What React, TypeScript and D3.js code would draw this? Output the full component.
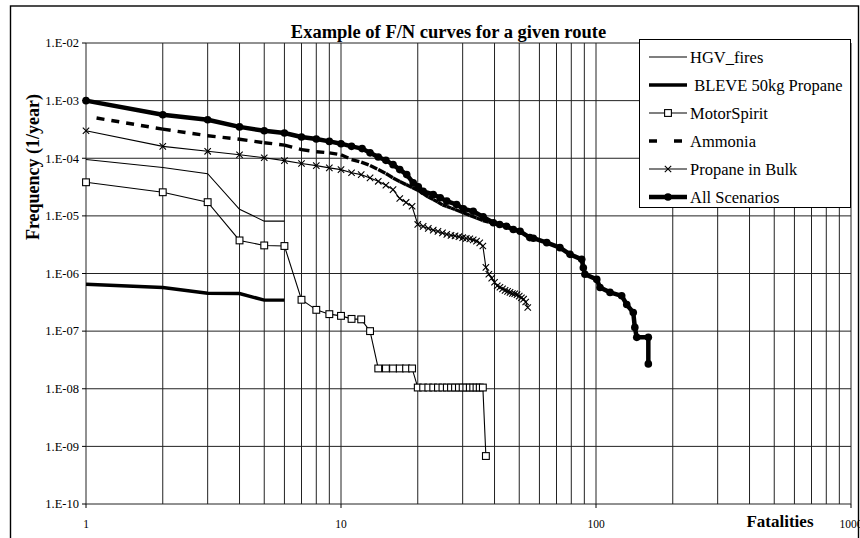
import React from "react";
import * as d3 from "d3";

// ---------- data ----------
const hgvN = [1, 2, 3, 4, 5, 6];
const hgvF = [9.5e-5, 6.9e-5, 5.4e-5, 1.3e-5, 8.1e-6, 8.1e-6];

const bleveN = [1, 2, 3, 4, 5, 6];
const bleveF = [6.5e-7, 5.7e-7, 4.55e-7, 4.5e-7, 3.45e-7, 3.45e-7];

const motorN = [1, 2, 3, 4, 5, 6, 7, 8, 9, 10, 11, 12, 13, 14, 15, 16, 17, 18, 19,
  20, 21, 22, 23, 24, 25, 26, 27, 28, 29, 30, 31, 32, 33, 34, 35, 36, 37];
const motorF = [3.83e-5, 2.57e-5, 1.73e-5, 3.75e-6, 3.07e-6, 3.0e-6, 3.5e-7, 2.34e-7,
  1.97e-7, 1.84e-7, 1.63e-7, 1.6e-7, 1.0e-7,
  2.25e-8, 2.25e-8, 2.25e-8, 2.25e-8, 2.25e-8, 2.25e-8,
  1.05e-8, 1.05e-8, 1.05e-8, 1.05e-8, 1.05e-8, 1.05e-8, 1.05e-8, 1.05e-8, 1.05e-8,
  1.05e-8, 1.05e-8, 1.05e-8, 1.05e-8, 1.05e-8, 1.05e-8, 1.05e-8, 1.05e-8, 6.8e-10];

const ammoniaN = [1.1, 2, 3, 4, 5, 6, 7, 8, 9, 10, 11, 12, 13, 14, 15, 16, 17, 18, 19,
  20, 21, 22, 23, 24, 25, 26, 27, 28, 30, 32, 34, 36, 38, 40, 42];
const ammoniaF = [5.0e-4, 3.2e-4, 2.46e-4, 2.14e-4, 1.86e-4, 1.69e-4, 1.41e-4, 1.3e-4,
  1.24e-4, 1.15e-4, 9.5e-5, 8.57e-5, 7.5e-5, 6.35e-5, 5.42e-5, 4.56e-5, 3.94e-5,
  3.49e-5, 3.1e-5, 2.8e-5, 2.44e-5, 2.12e-5, 1.92e-5, 1.74e-5, 1.55e-5, 1.46e-5,
  1.37e-5, 1.29e-5, 1.15e-5, 1.02e-5, 9.2e-6, 8.3e-6, 7.8e-6, 7.5e-6, 7.1e-6];

const propaneN = [1, 2, 3, 4, 5, 6, 7, 8, 9, 10, 11, 12, 13, 14, 15, 16, 17, 18, 19,
  20, 21, 22, 23, 24, 25, 26, 27, 28, 29, 30, 31, 32, 33, 34, 35, 36, 37, 38, 39,
  40, 41, 42, 43, 44, 45, 46, 47, 48, 49, 50, 51, 52, 53, 54];
const propaneF = [3.0e-4, 1.61e-4, 1.32e-4, 1.15e-4, 1.02e-4, 9.1e-5, 8.1e-5, 7.45e-5,
  6.8e-5, 6.35e-5, 5.6e-5, 5.2e-5, 4.56e-5, 3.98e-5, 3.4e-5, 2.86e-5, 2.0e-5, 1.71e-5,
  1.47e-5, 7.1e-6, 6.56e-6, 6.06e-6, 5.66e-6, 5.37e-6, 5.06e-6, 4.77e-6, 4.58e-6,
  4.49e-6, 4.35e-6, 4.18e-6, 4.06e-6, 3.98e-6, 3.83e-6, 3.65e-6, 3.4e-6, 3.0e-6,
  1.28e-6, 9.7e-7, 8.3e-7, 7.05e-7, 6.1e-7, 5.77e-7, 5.4e-7, 5.1e-7, 4.9e-7, 4.7e-7,
  4.5e-7, 4.45e-7, 4.3e-7, 4.04e-7, 3.8e-7, 3.58e-7, 3.2e-7, 2.57e-7];

const allN = [1, 2, 3, 4, 5, 6, 7, 8, 9, 10, 11, 12.1, 13, 14, 15, 16, 17, 18.1, 19.2,
  20.1, 21, 23, 24.5, 26, 28.4, 30.2, 33, 36.1, 39.6, 41.9, 44.6, 47.4, 50.4, 55,
  56.8, 64.1, 72.2, 79.1, 87.9, 89.2, 90.5, 100.7, 103.7, 113.5, 126.1, 132, 140,
  142, 144.5, 160.4, 160.4];
const allF = [1.0e-3, 5.7e-4, 4.65e-4, 3.5e-4, 3.0e-4, 2.74e-4, 2.34e-4, 2.16e-4,
  1.96e-4, 1.79e-4, 1.61e-4, 1.47e-4, 1.24e-4, 1.05e-4, 9.2e-5, 7.75e-5, 6.35e-5,
  5.2e-5, 3.74e-5, 3.19e-5, 2.67e-5, 2.35e-5, 2.06e-5, 1.8e-5, 1.57e-5, 1.33e-5,
  1.2e-5, 9.6e-6, 7.6e-6, 7.1e-6, 6.6e-6, 5.8e-6, 5.4e-6, 4.2e-6, 4.1e-6, 3.43e-6,
  2.81e-6, 2.15e-6, 1.76e-6, 1.26e-6, 9.7e-7, 7.9e-7, 5.7e-7, 4.7e-7, 4.1e-7,
  2.9e-7, 2.1e-7, 1.16e-7, 7.8e-8, 7.8e-8, 2.7e-8];

const xTickValues = [1, 10, 100, 1000];
const xTickLabels = ["1", "10", "100", "1000"];
const yTickValues = [1e-2, 1e-3, 1e-4, 1e-5, 1e-6, 1e-7, 1e-8, 1e-9, 1e-10];
const yTickLabels = ["1.E-02", "1.E-03", "1.E-04", "1.E-05", "1.E-06", "1.E-07",
  "1.E-08", "1.E-09", "1.E-10"];

const legendLabels = ["HGV_fires", " BLEVE 50kg Propane", "MotorSpirit", "Ammonia",
  "Propane in Bulk", "All Scenarios"];

const titleText = "Example of F/N curves for a given route";
const xTitle = "Fatalities";
const yTitle = "Frequency (1/year)";

// ---------- layout ----------
const W = 860;
const H = 538;
const left = 86, right = 851, top = 43, bottom = 504;
const serif = "'Liberation Serif', 'Times New Roman', serif";

type Pt = [number, number];
const zip = (a: number[], b: number[]): Pt[] => a.map((v, i) => [v, b[i]]);

export default function App() {
  const x = d3.scaleLog().domain([1, 1000]).range([left, right]);
  const y = d3.scaleLog().domain([1e-10, 1e-2]).range([bottom, top]);
  const line = d3.line<Pt>().x((d) => x(d[0])).y((d) => y(d[1]));

  const gridX: number[] = [];
  for (let k = 0; k < 3; k++) for (let m = 1; m <= 9; m++) gridX.push(m * Math.pow(10, k));
  gridX.push(1000);

  const hgv = zip(hgvN, hgvF);
  const bleve = zip(bleveN, bleveF);
  const motor = zip(motorN, motorF);
  const ammonia = zip(ammoniaN, ammoniaF);
  const propane = zip(propaneN, propaneF);
  const all = zip(allN, allF);

  const square = (cx: number, cy: number, key: string | number) => (
    <rect key={key} x={cx - 3.4} y={cy - 3.4} width={6.8} height={6.8} fill="white" stroke="#000" strokeWidth={1.1} />
  );
  const cross = (cx: number, cy: number, key: string | number) => (
    <path key={key} d={`M${cx - 3.2},${cy - 3.2}L${cx + 3.2},${cy + 3.2}M${cx - 3.2},${cy + 3.2}L${cx + 3.2},${cy - 3.2}`} stroke="#000" strokeWidth={1.1} />
  );
  const dot = (cx: number, cy: number, key: string | number) => (
    <circle key={key} cx={cx} cy={cy} r={3.8} fill="#000" />
  );

  const legX0 = 649, legX1 = 687, legTextX = 690;
  const legRows = [57, 85, 113, 141, 169, 197];

  return (
    <svg width={W} height={H} style={{ position: "absolute", left: 0, top: 0, background: "#fff" }} fontFamily={serif}>
      <rect x={0} y={0} width={W} height={H} fill="#fff" />
      {/* outer frame */}
      <rect x={10.5} y={6} width={848} height={540} fill="none" stroke="#000" strokeWidth={1.4} />

      {/* grid */}
      {gridX.map((v, i) => (
        <line key={"gx" + i} x1={x(v)} x2={x(v)} y1={top} y2={bottom} stroke="#222" strokeWidth={1} />
      ))}
      {yTickValues.map((v, i) => (
        <line key={"gy" + i} x1={left} x2={right} y1={y(v)} y2={y(v)} stroke="#222" strokeWidth={1} />
      ))}
      {/* ticks */}
      {xTickValues.map((v, i) => (
        <line key={"tx" + i} x1={x(v)} x2={x(v)} y1={bottom} y2={bottom + 4} stroke="#000" />
      ))}
      {yTickValues.map((v, i) => (
        <line key={"ty" + i} x1={left - 4} x2={left} y1={y(v)} y2={y(v)} stroke="#000" />
      ))}

      {/* tick labels */}
      {yTickValues.map((v, i) => (
        <text key={"yl" + i} x={left - 7} y={y(v) + 4.3} textAnchor="end" fontSize={12.5}>{yTickLabels[i]}</text>
      ))}
      {xTickValues.map((v, i) => (
        <text key={"xl" + i} x={x(v)} y={528} textAnchor="middle" fontSize={11.5}>{xTickLabels[i]}</text>
      ))}

      {/* titles */}
      <text x={448.5} y={38} textAnchor="middle" fontSize={18.5} fontWeight="bold">{titleText}</text>
      <text x={780} y={527} textAnchor="middle" fontSize={17} fontWeight="bold">{xTitle}</text>
      <text transform="translate(39,167) rotate(-90)" textAnchor="middle" fontSize={18} fontWeight="bold">{yTitle}</text>

      {/* series */}
      <path d={line(hgv) || ""} fill="none" stroke="#000" strokeWidth={1.1} />
      <path d={line(bleve) || ""} fill="none" stroke="#000" strokeWidth={3.4} />
      <path d={line(motor) || ""} fill="none" stroke="#000" strokeWidth={1.1} />
      {motor.map((d, i) => square(x(d[0]), y(d[1]), "ms" + i))}
      {ammonia.slice(1).map((d, i) => (
        <path key={"am" + i} d={line([ammonia[i], d]) || ""} fill="none" stroke="#000" strokeWidth={3.4} strokeDasharray="8,7" />
      ))}
      <path d={line(propane) || ""} fill="none" stroke="#000" strokeWidth={1.1} />
      {propane.map((d, i) => cross(x(d[0]), y(d[1]), "pb" + i))}
      <path d={line(all) || ""} fill="none" stroke="#000" strokeWidth={4.5} strokeLinejoin="round" />
      {all.map((d, i) => dot(x(d[0]), y(d[1]), "al" + i))}

      {/* legend */}
      <rect x={639.5} y={39.5} width={211} height={168} fill="#fff" stroke="#000" strokeWidth={1} />
      {legendLabels.map((lab, i) => {
        const ly = legRows[i];
        const mx = (legX0 + legX1) / 2;
        let sample: React.ReactNode = null;
        if (i === 0) sample = <line x1={legX0} x2={legX1} y1={ly} y2={ly} stroke="#000" strokeWidth={1.1} />;
        if (i === 1) sample = <line x1={legX0} x2={legX1} y1={ly} y2={ly} stroke="#000" strokeWidth={3.4} />;
        if (i === 2) sample = <g><line x1={legX0} x2={legX1} y1={ly} y2={ly} stroke="#000" strokeWidth={1.1} />{square(mx, ly, "lm")}</g>;
        if (i === 3) sample = <line x1={legX0} x2={legX1} y1={ly} y2={ly} stroke="#000" strokeWidth={3.4} strokeDasharray="8,17" />;
        if (i === 4) sample = <g><line x1={legX0} x2={legX1} y1={ly} y2={ly} stroke="#000" strokeWidth={1.1} />{cross(mx, ly, "lp")}</g>;
        if (i === 5) sample = <g><line x1={legX0} x2={legX1} y1={ly} y2={ly} stroke="#000" strokeWidth={4.5} />{dot(mx, ly, "la")}</g>;
        return (
          <g key={"lg" + i}>
            {sample}
            <text x={legTextX} y={ly + 5.5} fontSize={16.5} style={{ whiteSpace: "pre" }}>{lab}</text>
          </g>
        );
      })}
    </svg>
  );
}
